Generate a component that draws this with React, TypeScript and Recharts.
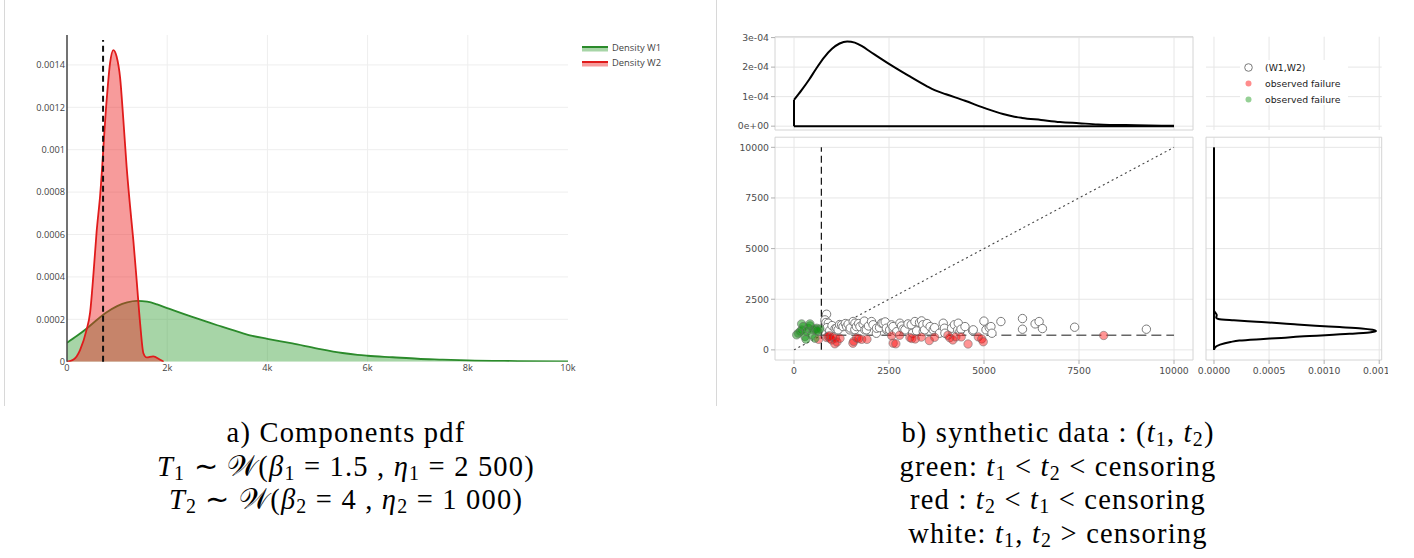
import React from 'react';
import {
  ComposedChart, Area, XAxis, YAxis, CartesianGrid, ReferenceLine, ReferenceArea,
  LineChart, Line, ScatterChart, Scatter,
} from 'recharts';

// ---------- data ----------
const CENSOR = 720;

const W1_X = [0, 200, 400, 600, 800, 1000, 1200, 1400, 1600, 1800, 2000, 2500, 3000, 3500, 3700, 4000, 4500, 5000, 5500, 5800, 6000, 6500, 7000, 7500, 8000, 9000, 10000];
const W1_Y = [0.000089, 0.000122, 0.000158, 0.000198, 0.000234, 0.000262, 0.00028, 0.000287, 0.000283, 0.00027, 0.000253, 0.000211, 0.000172, 0.000135, 0.000122, 0.000108, 0.000086, 0.000062, 0.000041, 0.000032, 0.000028, 0.000021, 0.000014, 0.00001, 0.000006, 0.000003, 0.000001];

const W2_X = [0, 130, 260, 390, 460, 530, 590, 660, 790, 860, 925, 990, 1060, 1125, 1190, 1260, 1325, 1390, 1460, 1525, 1590, 1720, 1860, 1930];
const W2_Y = [0, 0.00001, 0.000055, 0.00015, 0.00023, 0.00042, 0.00061, 0.00078, 0.00123, 0.00141, 0.00147, 0.00144, 0.00134, 0.00114, 0.00092, 0.00073, 0.00057, 0.000385, 0.00018, 0.00004, 0.00002, 0.000025, 0.000009, 0];

const LEFT_X_TICKS = [0, 2000, 4000, 6000, 8000, 10000];
const LEFT_Y_TICKS = [0, 0.0002, 0.0004, 0.0006, 0.0008, 0.001, 0.0012, 0.0014];

const T_TICKS = [0, 2500, 5000, 7500, 10000];
const TOP_Y_TICKS = [0, 0.0001, 0.0002, 0.0003];
const SIDE_X_TICKS = [0, 0.0005, 0.001, 0.0015];

const WHITE_PTS = [[857,1760],[815,1480],[840,1350],[903,1316],[870,1100],[940,960],[1000,1200],[1080,1050],[1122,1069],[1160,990],[1200,1250],[1253,1234],[1290,1150],[1350,1300],[1385,1151],[1425,1270],[1472,987],[1480,1080],[1556,1400],[1600,1000],[1603,1316],[1643,1150],[1700,1300],[1735,1151],[1818,1270],[1850,1420],[1866,987],[1905,990],[1960,1180],[2041,1398],[2080,1240],[2168,820],[2173,1069],[2250,1100],[2304,1316],[2342,1320],[2400,1380],[2436,987],[2430,1070],[2517,990],[2567,1234],[2611,987],[2605,1150],[2700,900],[2787,1316],[2830,1180],[2867,1020],[2919,987],[3000,1280],[3085,1240],[3120,820],[3182,1398],[3226,938],[3304,1350],[3357,1431],[3391,1240],[3401,905],[3435,990],[3500,1300],[3580,1150],[3664,987],[3700,1100],[3828,820],[3927,1316],[3959,1070],[3971,822],[4147,1069],[4221,1240],[4309,990],[4322,1316],[4366,905],[4396,1020],[4500,1150],[4702,940],[4717,990],[4998,1420],[5052,990],[5137,1100],[5183,1150],[5209,822],[5445,1398],[6013,1546],[6013,1020],[6345,1283],[6450,1398],[6537,1053],[7385,1119],[9273,1020]];
const RED_PTS = [[650,520],[860,610],[900,650],[930,700],[950,560],[990,490],[1010,640],[1075,300],[1090,580],[1130,390],[1210,570],[1550,330],[1570,420],[1650,590],[1700,560],[1780,520],[1920,520],[2570,700],[2610,330],[2680,300],[2780,720],[3050,610],[3100,560],[3190,540],[3350,630],[3560,460],[3700,620],[4050,720],[4100,600],[4180,490],[4260,640],[4400,640],[4580,290],[4850,640],[4940,540],[4980,400],[8150,710]];
const GREEN_PTS = [[70,740],[114,822],[160,900],[200,1283],[202,987],[245,1151],[289,658],[315,526],[333,905],[377,1069],[421,1184],[420,1283],[465,740],[508,987],[552,576],[560,1020],[596,1069],[640,905],[684,1036],[610,960]];

const LEFT_LEGEND = [
  { name: 'Density W1', stroke: '#2b8a2b', fill: 'rgba(46,154,46,0.42)' },
  { name: 'Density W2', stroke: '#e01b1b', fill: 'rgba(238,34,34,0.45)' },
];
const RIGHT_LEGEND = [
  { name: '(W1,W2)', kind: 'open' },
  { name: 'observed failure', kind: 'red' },
  { name: 'observed failure', kind: 'green' },
];

// ---------- derived tables ----------
const leftTable = (() => {
  const xs = Array.from(new Set([...W1_X, ...W2_X])).sort((a, b) => a - b);
  return xs.map((x) => {
    const i1 = W1_X.indexOf(x);
    const i2 = W2_X.indexOf(x);
    return { x, w1: i1 >= 0 ? W1_Y[i1] : undefined, w2: i2 >= 0 ? W2_Y[i2] : undefined };
  });
})();
const w1Rows = W1_X.map((x, i) => ({ x, y: W1_Y[i] }));
const w2Rows = W2_X.map((t, i) => ({ t, d: W2_Y[i] }));
const toPts = (arr: number[][]) => arr.map(([x, y]) => ({ x, y }));

const fmtK = (v: number) => (v === 0 ? '0' : `${v / 1000}k`);
const fmtPlain = (v: number) => (v === 0 ? '0' : String(v));
const fmtSci = (v: number) => {
  if (v === 0) return '0e+00';
  const e = Math.floor(Math.log10(Math.abs(v)) + 1e-9);
  const m = Math.round(v / Math.pow(10, e));
  return `${m}e${e < 0 ? '-' : '+'}${String(Math.abs(e)).padStart(2, '0')}`;
};

const plotlyTick = { fill: '#444', fontSize: 9.2, fontFamily: '"Open Sans", sans-serif' };
const ggTick = { fill: '#4d4d4d', fontSize: 9.3, fontFamily: '"DejaVu Sans", sans-serif' };
const GRID = '#e6e6e6';
const BORDER = '#d4d4d4';

const T_DOMAIN: [number, number] = [-500, 10500];
const TOP_DOMAIN: [number, number] = [-0.000013, 0.000303];
const SIDE_DOMAIN: [number, number] = [-0.0000725, 0.0015225];

const circleShape = (fill: string, stroke: string, r: number) => (p: any) => (
  <circle cx={p.cx} cy={p.cy} r={r} fill={fill} stroke={stroke} strokeWidth={1} />
);

const Sub = ({ children }: { children: React.ReactNode }) => (
  <sub style={{ fontSize: '0.7em', verticalAlign: '-0.22em', lineHeight: 0 }}>{children}</sub>
);

const captionStyle: React.CSSProperties = {
  position: 'absolute', width: 460, top: 416, textAlign: 'center',
  fontFamily: '"Liberation Serif", serif', fontSize: 28.5, letterSpacing: 1.2, lineHeight: '33.5px', color: '#000', whiteSpace: 'nowrap',
};

export default function App() {
  return (
    <div style={{ position: 'absolute', left: 0, top: 0, width: 1414, height: 558, background: '#fff', overflow: 'hidden' }}>
      {/* frame of left panel */}
      <div style={{ position: 'absolute', left: 4, top: 0, width: 1, height: 406, background: '#d8d8d8' }} />
      <div style={{ position: 'absolute', left: 716, top: 0, width: 1, height: 406, background: '#d8d8d8' }} />

      {/* ---------- left chart ---------- */}
      <div style={{ position: 'absolute', left: 0, top: 0 }}>
        <ComposedChart width={720} height={400} data={leftTable} margin={{ top: 35, right: 152, bottom: 18.3, left: 7 }}>
          <CartesianGrid stroke="#eeeeee" horizontalValues={LEFT_Y_TICKS.slice(1)} verticalValues={LEFT_X_TICKS.slice(1, -1)} />
          <XAxis type="number" dataKey="x" domain={[0, 10000]} ticks={LEFT_X_TICKS} interval={0} tickFormatter={fmtK}
            axisLine={false} tickLine={false} tickSize={0} tickMargin={3} height={20} tick={plotlyTick} allowDataOverflow />
          <YAxis type="number" domain={[0, 0.001541]} ticks={LEFT_Y_TICKS} interval={0} tickFormatter={fmtPlain} width={60}
            axisLine={{ stroke: '#444', strokeWidth: 1.5 }} tickLine={false} tickSize={0} tickMargin={2} tick={plotlyTick} allowDataOverflow />
          <Area dataKey="w1" type="monotone" stroke={LEFT_LEGEND[0].stroke} strokeWidth={1.8} fill="#2e9a2e" fillOpacity={0.42}
            connectNulls dot={false} activeDot={false} isAnimationActive={false} />
          <Area dataKey="w2" type="monotone" stroke={LEFT_LEGEND[1].stroke} strokeWidth={1.8} fill="#ee2222" fillOpacity={0.45}
            connectNulls dot={false} activeDot={false} isAnimationActive={false} />
          <ReferenceLine segment={[{ x: CENSOR, y: 0 }, { x: CENSOR, y: 0.001517 }]} stroke="#111" strokeWidth={2} strokeDasharray="6 4" />
        </ComposedChart>
      </div>

      {/* left legend */}
      {LEFT_LEGEND.map((l, i) => (
        <div key={l.name} style={{ position: 'absolute', left: 582, top: 40 + 15 * i, height: 15, display: 'flex', alignItems: 'center' }}>
          <svg width={26} height={15} style={{ display: 'block' }}>
            <rect x={0} y={7} width={26} height={4.5} fill={l.fill} />
            <line x1={0} x2={26} y1={7} y2={7} stroke={l.stroke} strokeWidth={2} />
          </svg>
          <span style={{ marginLeft: 4, font: '9.4px "Open Sans", sans-serif', color: '#444', whiteSpace: 'nowrap' }}>{l.name}</span>
        </div>
      ))}

      {/* ---------- top marginal ---------- */}
      <div style={{ position: 'absolute', left: 720, top: 0 }}>
        <LineChart width={480} height={140} margin={{ top: 36.7, right: 7, bottom: 10, left: 5 }}>
          <XAxis type="number" dataKey="x" domain={T_DOMAIN} ticks={T_TICKS} hide allowDataOverflow />
          <YAxis type="number" domain={TOP_DOMAIN} ticks={TOP_Y_TICKS} interval={0} tickFormatter={fmtSci} width={50}
            axisLine={false} tickLine={{ stroke: '#b0b0b0' }} tickSize={4} tickMargin={2} tick={ggTick} allowDataOverflow />
          <CartesianGrid stroke={GRID} verticalValues={T_TICKS} horizontalValues={TOP_Y_TICKS} />
          <ReferenceArea x1={T_DOMAIN[0]} x2={T_DOMAIN[1]} y1={TOP_DOMAIN[0]} y2={TOP_DOMAIN[1]} fill="none" stroke={BORDER} strokeWidth={1} />
          <ReferenceLine segment={[{ x: 0, y: 0 }, { x: 10000, y: 0 }]} stroke="#000" strokeWidth={2} />
          <ReferenceLine segment={[{ x: 0, y: 0 }, { x: 0, y: W1_Y[0] }]} stroke="#000" strokeWidth={2} />
          <Line data={w1Rows} dataKey="y" type="monotone" stroke="#000" strokeWidth={2} dot={false} activeDot={false} isAnimationActive={false} />
        </LineChart>
      </div>

      {/* ---------- main scatter ---------- */}
      <div style={{ position: 'absolute', left: 720, top: 130 }}>
        <ScatterChart width={480} height={270} margin={{ top: 7.2, right: 7, bottom: 20, left: 5 }}>
          <CartesianGrid stroke={GRID} verticalValues={T_TICKS} horizontalValues={T_TICKS} />
          <XAxis type="number" dataKey="x" domain={T_DOMAIN} ticks={T_TICKS} interval={0} height={20}
            axisLine={false} tickLine={{ stroke: '#b0b0b0' }} tickSize={4} tickMargin={3} tick={ggTick} allowDataOverflow />
          <YAxis type="number" dataKey="y" domain={T_DOMAIN} ticks={T_TICKS} interval={0} width={50}
            axisLine={false} tickLine={{ stroke: '#b0b0b0' }} tickSize={4} tickMargin={2} tick={ggTick} allowDataOverflow />
          <ReferenceArea x1={T_DOMAIN[0]} x2={T_DOMAIN[1]} y1={T_DOMAIN[0]} y2={T_DOMAIN[1]} fill="none" stroke={BORDER} strokeWidth={1} />
          <ReferenceLine segment={[{ x: 0, y: 0 }, { x: 10000, y: 10000 }]} stroke="#444" strokeWidth={1.1} strokeDasharray="2 3" />
          <ReferenceLine segment={[{ x: CENSOR, y: 0 }, { x: CENSOR, y: 10000 }]} stroke="#111" strokeWidth={1.2} strokeDasharray="7 4" />
          <ReferenceLine segment={[{ x: CENSOR, y: CENSOR }, { x: 10000, y: CENSOR }]} stroke="#666" strokeWidth={1.5} strokeDasharray="10 5" />
          <Scatter data={toPts(WHITE_PTS)} shape={circleShape('#ffffff', '#7a7a7a', 4.2)} isAnimationActive={false} />
          <Scatter data={toPts(RED_PTS)} shape={circleShape('rgba(255,0,0,0.42)', 'rgba(110,110,110,0.55)', 4.2)} isAnimationActive={false} />
          <Scatter data={toPts(GREEN_PTS)} shape={circleShape('rgba(20,150,20,0.5)', 'rgba(110,110,110,0.55)', 4.2)} isAnimationActive={false} />
        </ScatterChart>
      </div>

      {/* ---------- empty panel behind legend ---------- */}
      <div style={{ position: 'absolute', left: 1190, top: 0, width: 198, height: 140, overflow: 'hidden' }}>
        <LineChart width={224} height={140} margin={{ top: 36.7, right: 32.3, bottom: 10, left: 16 }}>
          <XAxis type="number" dataKey="x" domain={SIDE_DOMAIN} ticks={SIDE_X_TICKS} hide allowDataOverflow />
          <YAxis type="number" domain={TOP_DOMAIN} ticks={TOP_Y_TICKS} hide allowDataOverflow />
          <CartesianGrid stroke={GRID} verticalValues={SIDE_X_TICKS} horizontalValues={TOP_Y_TICKS.slice(0, 3)} />
        </LineChart>
      </div>

      {/* right legend */}
      <div style={{ position: 'absolute', left: 1240, top: 60, width: 108, height: 45, background: '#fff' }} />
      {RIGHT_LEGEND.map((l, i) => (
        <div key={i} style={{ position: 'absolute', left: 1243, top: 60 + 15.8 * i, height: 15, display: 'flex', alignItems: 'center' }}>
          <svg width={11} height={15} style={{ display: 'block' }}>
            {l.kind === 'open' ? (
              <circle cx={5.5} cy={7.5} r={3.8} fill="#fff" stroke="#7a7a7a" strokeWidth={1} />
            ) : (
              <circle cx={5.5} cy={7.5} r={3} fill={l.kind === 'red' ? 'rgba(255,0,0,0.45)' : 'rgba(20,150,20,0.45)'} />
            )}
          </svg>
          <span style={{ marginLeft: 11, font: '9.3px "DejaVu Sans", sans-serif', color: '#1a1a1a', whiteSpace: 'nowrap' }}>{l.name}</span>
        </div>
      ))}

      {/* ---------- right marginal ---------- */}
      <div style={{ position: 'absolute', left: 1190, top: 130, width: 198, height: 270, overflow: 'hidden' }}>
        <LineChart layout="vertical" width={224} height={270} margin={{ top: 7.2, right: 32.3, bottom: 20, left: 16 }}>
          <CartesianGrid stroke={GRID} verticalValues={SIDE_X_TICKS} horizontalValues={T_TICKS} />
          <XAxis type="number" domain={SIDE_DOMAIN} ticks={SIDE_X_TICKS} interval={0} tickFormatter={(v: number) => v.toFixed(4)} height={20}
            axisLine={false} tickLine={{ stroke: '#b0b0b0' }} tickSize={4} tickMargin={3} tick={ggTick} allowDataOverflow />
          <YAxis type="number" dataKey="t" domain={T_DOMAIN} reversed hide allowDataOverflow />
          <ReferenceArea x1={SIDE_DOMAIN[0]} x2={SIDE_DOMAIN[1]} y1={T_DOMAIN[0]} y2={T_DOMAIN[1]} fill="none" stroke={BORDER} strokeWidth={1} />
          <ReferenceLine segment={[{ x: 0, y: 0 }, { x: 0, y: 10000 }]} stroke="#000" strokeWidth={2} />
          <Line data={w2Rows} dataKey="d" type="monotone" stroke="#000" strokeWidth={2} dot={false} activeDot={false} isAnimationActive={false} />
        </LineChart>
      </div>

      {/* ---------- captions ---------- */}
      <div style={{ ...captionStyle, left: 116 }}>
        <div>a) Components pdf</div>
        <div><i>T</i><Sub>1</Sub> ∼ 𝒲(<i>β</i><Sub>1</Sub> = 1.5 , <i>η</i><Sub>1</Sub> = 2 500)</div>
        <div><i>T</i><Sub>2</Sub> ∼ 𝒲(<i>β</i><Sub>2</Sub> = 4 , <i>η</i><Sub>2</Sub> = 1 000)</div>
      </div>
      <div style={{ ...captionStyle, left: 828 }}>
        <div>b) synthetic data : (<i>t</i><Sub>1</Sub>, <i>t</i><Sub>2</Sub>)</div>
        <div>green: <i>t</i><Sub>1</Sub> &lt; <i>t</i><Sub>2</Sub> &lt; censoring</div>
        <div>red : <i>t</i><Sub>2</Sub> &lt; <i>t</i><Sub>1</Sub> &lt; censoring</div>
        <div>white: <i>t</i><Sub>1</Sub>, <i>t</i><Sub>2</Sub> &gt; censoring</div>
      </div>
    </div>
  );
}
